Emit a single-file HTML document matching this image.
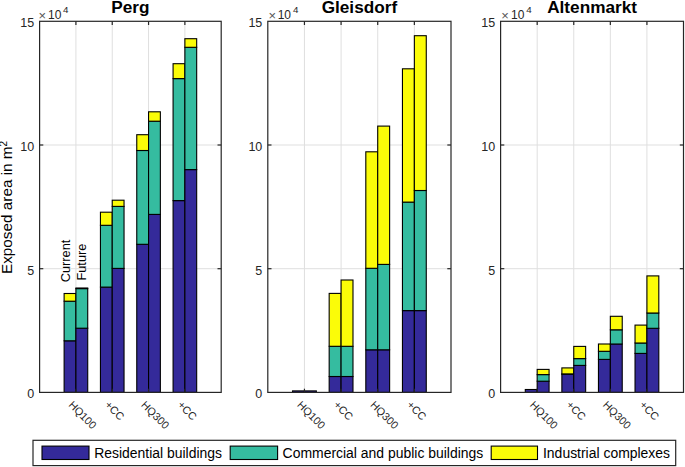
<!DOCTYPE html>
<html><head><meta charset="utf-8"><style>html,body{margin:0;padding:0;background:#fff;width:685px;height:467px;overflow:hidden}</style></head>
<body>
<svg width="685" height="467" viewBox="0 0 685 467" style="display:block">
<rect width="685" height="467" fill="#fff"/>
<line x1="75.92" y1="21.3" x2="75.92" y2="392.4" stroke="#dfdfdf" stroke-width="1"/>
<line x1="112.24" y1="21.3" x2="112.24" y2="392.4" stroke="#dfdfdf" stroke-width="1"/>
<line x1="148.56" y1="21.3" x2="148.56" y2="392.4" stroke="#dfdfdf" stroke-width="1"/>
<line x1="184.88" y1="21.3" x2="184.88" y2="392.4" stroke="#dfdfdf" stroke-width="1"/>
<line x1="39.6" y1="268.70" x2="221.2" y2="268.70" stroke="#dfdfdf" stroke-width="1"/>
<line x1="39.6" y1="145.00" x2="221.2" y2="145.00" stroke="#dfdfdf" stroke-width="1"/>
<rect x="64.12" y="340.80" width="11.80" height="51.60" fill="#342a9a" stroke="#000" stroke-width="1.1"/>
<rect x="64.12" y="301.20" width="11.80" height="39.60" fill="#35bca0" stroke="#000" stroke-width="1.1"/>
<rect x="64.12" y="293.50" width="11.80" height="7.70" fill="#fbfc08" stroke="#000" stroke-width="1.1"/>
<rect x="75.92" y="328.20" width="11.80" height="64.20" fill="#342a9a" stroke="#000" stroke-width="1.1"/>
<rect x="75.92" y="288.60" width="11.80" height="39.60" fill="#35bca0" stroke="#000" stroke-width="1.1"/>
<rect x="75.92" y="288.00" width="11.80" height="0.60" fill="#fbfc08" stroke="#000" stroke-width="1.1"/>
<rect x="100.44" y="287.10" width="11.80" height="105.30" fill="#342a9a" stroke="#000" stroke-width="1.1"/>
<rect x="100.44" y="225.30" width="11.80" height="61.80" fill="#35bca0" stroke="#000" stroke-width="1.1"/>
<rect x="100.44" y="212.20" width="11.80" height="13.10" fill="#fbfc08" stroke="#000" stroke-width="1.1"/>
<rect x="112.24" y="268.40" width="11.80" height="124.00" fill="#342a9a" stroke="#000" stroke-width="1.1"/>
<rect x="112.24" y="206.40" width="11.80" height="62.00" fill="#35bca0" stroke="#000" stroke-width="1.1"/>
<rect x="112.24" y="200.20" width="11.80" height="6.20" fill="#fbfc08" stroke="#000" stroke-width="1.1"/>
<rect x="136.76" y="244.30" width="11.80" height="148.10" fill="#342a9a" stroke="#000" stroke-width="1.1"/>
<rect x="136.76" y="150.50" width="11.80" height="93.80" fill="#35bca0" stroke="#000" stroke-width="1.1"/>
<rect x="136.76" y="134.70" width="11.80" height="15.80" fill="#fbfc08" stroke="#000" stroke-width="1.1"/>
<rect x="148.56" y="214.40" width="11.80" height="178.00" fill="#342a9a" stroke="#000" stroke-width="1.1"/>
<rect x="148.56" y="121.20" width="11.80" height="93.20" fill="#35bca0" stroke="#000" stroke-width="1.1"/>
<rect x="148.56" y="111.80" width="11.80" height="9.40" fill="#fbfc08" stroke="#000" stroke-width="1.1"/>
<rect x="173.08" y="200.60" width="11.80" height="191.80" fill="#342a9a" stroke="#000" stroke-width="1.1"/>
<rect x="173.08" y="78.60" width="11.80" height="122.00" fill="#35bca0" stroke="#000" stroke-width="1.1"/>
<rect x="173.08" y="63.70" width="11.80" height="14.90" fill="#fbfc08" stroke="#000" stroke-width="1.1"/>
<rect x="184.88" y="169.60" width="11.80" height="222.80" fill="#342a9a" stroke="#000" stroke-width="1.1"/>
<rect x="184.88" y="47.30" width="11.80" height="122.30" fill="#35bca0" stroke="#000" stroke-width="1.1"/>
<rect x="184.88" y="38.70" width="11.80" height="8.60" fill="#fbfc08" stroke="#000" stroke-width="1.1"/>
<rect x="39.6" y="21.3" width="181.60" height="371.10" fill="none" stroke="#262626" stroke-width="1.2"/>
<line x1="75.92" y1="392.4" x2="75.92" y2="388.7" stroke="#262626" stroke-width="1.2"/>
<line x1="75.92" y1="21.3" x2="75.92" y2="25.0" stroke="#262626" stroke-width="1.2"/>
<line x1="112.24" y1="392.4" x2="112.24" y2="388.7" stroke="#262626" stroke-width="1.2"/>
<line x1="112.24" y1="21.3" x2="112.24" y2="25.0" stroke="#262626" stroke-width="1.2"/>
<line x1="148.56" y1="392.4" x2="148.56" y2="388.7" stroke="#262626" stroke-width="1.2"/>
<line x1="148.56" y1="21.3" x2="148.56" y2="25.0" stroke="#262626" stroke-width="1.2"/>
<line x1="184.88" y1="392.4" x2="184.88" y2="388.7" stroke="#262626" stroke-width="1.2"/>
<line x1="184.88" y1="21.3" x2="184.88" y2="25.0" stroke="#262626" stroke-width="1.2"/>
<line x1="39.6" y1="268.70" x2="43.300000000000004" y2="268.70" stroke="#262626" stroke-width="1.2"/>
<line x1="221.2" y1="268.70" x2="217.5" y2="268.70" stroke="#262626" stroke-width="1.2"/>
<line x1="39.6" y1="145.00" x2="43.300000000000004" y2="145.00" stroke="#262626" stroke-width="1.2"/>
<line x1="221.2" y1="145.00" x2="217.5" y2="145.00" stroke="#262626" stroke-width="1.2"/>
<text x="34.10" y="398.30" text-anchor="end" font-family='"Liberation Sans", sans-serif' font-size="12.5" fill="#262626">0</text>
<text x="34.10" y="274.60" text-anchor="end" font-family='"Liberation Sans", sans-serif' font-size="12.5" fill="#262626">5</text>
<text x="34.10" y="150.90" text-anchor="end" font-family='"Liberation Sans", sans-serif' font-size="12.5" fill="#262626">10</text>
<text x="34.10" y="27.20" text-anchor="end" font-family='"Liberation Sans", sans-serif' font-size="12.5" fill="#262626">15</text>
<text x="38.49" y="19.7" font-family='"Liberation Sans", sans-serif' font-size="13" fill="#555">&#215;</text>
<text x="47.99" y="18.6" font-family='"Liberation Sans", sans-serif' font-size="12" fill="#262626">10</text>
<text x="62.97" y="12.7" font-family='"Liberation Sans", sans-serif' font-size="9.8" fill="#262626">4</text>
<text x="130.40" y="13.2" text-anchor="middle" font-family='"Liberation Sans", sans-serif' font-weight="bold" font-size="17.2" fill="#000">Perg</text>
<text transform="translate(67.92,405.60) rotate(45)" font-family='"Liberation Sans", sans-serif' font-size="10.8" fill="#262626">HQ100</text>
<text transform="translate(104.24,405.60) rotate(45)" font-family='"Liberation Sans", sans-serif' font-size="10.8" fill="#262626">+CC</text>
<text transform="translate(140.56,405.60) rotate(45)" font-family='"Liberation Sans", sans-serif' font-size="10.8" fill="#262626">HQ300</text>
<text transform="translate(176.88,405.60) rotate(45)" font-family='"Liberation Sans", sans-serif' font-size="10.8" fill="#262626">+CC</text>
<line x1="304.44" y1="21.3" x2="304.44" y2="392.4" stroke="#dfdfdf" stroke-width="1"/>
<line x1="341.08" y1="21.3" x2="341.08" y2="392.4" stroke="#dfdfdf" stroke-width="1"/>
<line x1="377.72" y1="21.3" x2="377.72" y2="392.4" stroke="#dfdfdf" stroke-width="1"/>
<line x1="414.36" y1="21.3" x2="414.36" y2="392.4" stroke="#dfdfdf" stroke-width="1"/>
<line x1="267.8" y1="268.70" x2="451.0" y2="268.70" stroke="#dfdfdf" stroke-width="1"/>
<line x1="267.8" y1="145.00" x2="451.0" y2="145.00" stroke="#dfdfdf" stroke-width="1"/>
<rect x="292.53" y="390.90" width="11.91" height="1.50" fill="#342a9a" stroke="#000" stroke-width="1.1"/>
<rect x="304.44" y="390.90" width="11.91" height="1.50" fill="#342a9a" stroke="#000" stroke-width="1.1"/>
<rect x="329.17" y="376.50" width="11.91" height="15.90" fill="#342a9a" stroke="#000" stroke-width="1.1"/>
<rect x="329.17" y="346.30" width="11.91" height="30.20" fill="#35bca0" stroke="#000" stroke-width="1.1"/>
<rect x="329.17" y="293.40" width="11.91" height="52.90" fill="#fbfc08" stroke="#000" stroke-width="1.1"/>
<rect x="341.08" y="376.50" width="11.91" height="15.90" fill="#342a9a" stroke="#000" stroke-width="1.1"/>
<rect x="341.08" y="346.30" width="11.91" height="30.20" fill="#35bca0" stroke="#000" stroke-width="1.1"/>
<rect x="341.08" y="280.00" width="11.91" height="66.30" fill="#fbfc08" stroke="#000" stroke-width="1.1"/>
<rect x="365.81" y="349.80" width="11.91" height="42.60" fill="#342a9a" stroke="#000" stroke-width="1.1"/>
<rect x="365.81" y="268.30" width="11.91" height="81.50" fill="#35bca0" stroke="#000" stroke-width="1.1"/>
<rect x="365.81" y="151.80" width="11.91" height="116.50" fill="#fbfc08" stroke="#000" stroke-width="1.1"/>
<rect x="377.72" y="349.80" width="11.91" height="42.60" fill="#342a9a" stroke="#000" stroke-width="1.1"/>
<rect x="377.72" y="264.40" width="11.91" height="85.40" fill="#35bca0" stroke="#000" stroke-width="1.1"/>
<rect x="377.72" y="126.10" width="11.91" height="138.30" fill="#fbfc08" stroke="#000" stroke-width="1.1"/>
<rect x="402.45" y="310.60" width="11.91" height="81.80" fill="#342a9a" stroke="#000" stroke-width="1.1"/>
<rect x="402.45" y="202.10" width="11.91" height="108.50" fill="#35bca0" stroke="#000" stroke-width="1.1"/>
<rect x="402.45" y="68.80" width="11.91" height="133.30" fill="#fbfc08" stroke="#000" stroke-width="1.1"/>
<rect x="414.36" y="310.60" width="11.91" height="81.80" fill="#342a9a" stroke="#000" stroke-width="1.1"/>
<rect x="414.36" y="190.50" width="11.91" height="120.10" fill="#35bca0" stroke="#000" stroke-width="1.1"/>
<rect x="414.36" y="35.70" width="11.91" height="154.80" fill="#fbfc08" stroke="#000" stroke-width="1.1"/>
<rect x="267.8" y="21.3" width="183.20" height="371.10" fill="none" stroke="#262626" stroke-width="1.2"/>
<line x1="304.44" y1="392.4" x2="304.44" y2="388.7" stroke="#262626" stroke-width="1.2"/>
<line x1="304.44" y1="21.3" x2="304.44" y2="25.0" stroke="#262626" stroke-width="1.2"/>
<line x1="341.08" y1="392.4" x2="341.08" y2="388.7" stroke="#262626" stroke-width="1.2"/>
<line x1="341.08" y1="21.3" x2="341.08" y2="25.0" stroke="#262626" stroke-width="1.2"/>
<line x1="377.72" y1="392.4" x2="377.72" y2="388.7" stroke="#262626" stroke-width="1.2"/>
<line x1="377.72" y1="21.3" x2="377.72" y2="25.0" stroke="#262626" stroke-width="1.2"/>
<line x1="414.36" y1="392.4" x2="414.36" y2="388.7" stroke="#262626" stroke-width="1.2"/>
<line x1="414.36" y1="21.3" x2="414.36" y2="25.0" stroke="#262626" stroke-width="1.2"/>
<line x1="267.8" y1="268.70" x2="271.5" y2="268.70" stroke="#262626" stroke-width="1.2"/>
<line x1="451.0" y1="268.70" x2="447.3" y2="268.70" stroke="#262626" stroke-width="1.2"/>
<line x1="267.8" y1="145.00" x2="271.5" y2="145.00" stroke="#262626" stroke-width="1.2"/>
<line x1="451.0" y1="145.00" x2="447.3" y2="145.00" stroke="#262626" stroke-width="1.2"/>
<text x="262.30" y="398.30" text-anchor="end" font-family='"Liberation Sans", sans-serif' font-size="12.5" fill="#262626">0</text>
<text x="262.30" y="274.60" text-anchor="end" font-family='"Liberation Sans", sans-serif' font-size="12.5" fill="#262626">5</text>
<text x="262.30" y="150.90" text-anchor="end" font-family='"Liberation Sans", sans-serif' font-size="12.5" fill="#262626">10</text>
<text x="262.30" y="27.20" text-anchor="end" font-family='"Liberation Sans", sans-serif' font-size="12.5" fill="#262626">15</text>
<text x="268.49" y="19.7" font-family='"Liberation Sans", sans-serif' font-size="13" fill="#555">&#215;</text>
<text x="277.69" y="18.6" font-family='"Liberation Sans", sans-serif' font-size="12" fill="#262626">10</text>
<text x="292.97" y="12.7" font-family='"Liberation Sans", sans-serif' font-size="9.8" fill="#262626">4</text>
<text x="359.40" y="13.2" text-anchor="middle" font-family='"Liberation Sans", sans-serif' font-weight="bold" font-size="17.2" fill="#000">Gleisdorf</text>
<text transform="translate(296.44,405.60) rotate(45)" font-family='"Liberation Sans", sans-serif' font-size="10.8" fill="#262626">HQ100</text>
<text transform="translate(333.08,405.60) rotate(45)" font-family='"Liberation Sans", sans-serif' font-size="10.8" fill="#262626">+CC</text>
<text transform="translate(369.72,405.60) rotate(45)" font-family='"Liberation Sans", sans-serif' font-size="10.8" fill="#262626">HQ300</text>
<text transform="translate(406.36,405.60) rotate(45)" font-family='"Liberation Sans", sans-serif' font-size="10.8" fill="#262626">+CC</text>
<line x1="537.18" y1="21.3" x2="537.18" y2="392.4" stroke="#dfdfdf" stroke-width="1"/>
<line x1="573.76" y1="21.3" x2="573.76" y2="392.4" stroke="#dfdfdf" stroke-width="1"/>
<line x1="610.34" y1="21.3" x2="610.34" y2="392.4" stroke="#dfdfdf" stroke-width="1"/>
<line x1="646.92" y1="21.3" x2="646.92" y2="392.4" stroke="#dfdfdf" stroke-width="1"/>
<line x1="500.6" y1="268.70" x2="683.5" y2="268.70" stroke="#dfdfdf" stroke-width="1"/>
<line x1="500.6" y1="145.00" x2="683.5" y2="145.00" stroke="#dfdfdf" stroke-width="1"/>
<rect x="525.29" y="389.50" width="11.89" height="2.90" fill="#342a9a" stroke="#000" stroke-width="1.1"/>
<rect x="537.18" y="381.20" width="11.89" height="11.20" fill="#342a9a" stroke="#000" stroke-width="1.1"/>
<rect x="537.18" y="374.60" width="11.89" height="6.60" fill="#35bca0" stroke="#000" stroke-width="1.1"/>
<rect x="537.18" y="369.40" width="11.89" height="5.20" fill="#fbfc08" stroke="#000" stroke-width="1.1"/>
<rect x="561.87" y="374.20" width="11.89" height="18.20" fill="#342a9a" stroke="#000" stroke-width="1.1"/>
<rect x="561.87" y="373.90" width="11.89" height="0.30" fill="#35bca0" stroke="#000" stroke-width="1.1"/>
<rect x="561.87" y="367.90" width="11.89" height="6.00" fill="#fbfc08" stroke="#000" stroke-width="1.1"/>
<rect x="573.76" y="365.40" width="11.89" height="27.00" fill="#342a9a" stroke="#000" stroke-width="1.1"/>
<rect x="573.76" y="358.60" width="11.89" height="6.80" fill="#35bca0" stroke="#000" stroke-width="1.1"/>
<rect x="573.76" y="346.40" width="11.89" height="12.20" fill="#fbfc08" stroke="#000" stroke-width="1.1"/>
<rect x="598.45" y="359.40" width="11.89" height="33.00" fill="#342a9a" stroke="#000" stroke-width="1.1"/>
<rect x="598.45" y="351.30" width="11.89" height="8.10" fill="#35bca0" stroke="#000" stroke-width="1.1"/>
<rect x="598.45" y="344.00" width="11.89" height="7.30" fill="#fbfc08" stroke="#000" stroke-width="1.1"/>
<rect x="610.34" y="344.00" width="11.89" height="48.40" fill="#342a9a" stroke="#000" stroke-width="1.1"/>
<rect x="610.34" y="329.80" width="11.89" height="14.20" fill="#35bca0" stroke="#000" stroke-width="1.1"/>
<rect x="610.34" y="316.30" width="11.89" height="13.50" fill="#fbfc08" stroke="#000" stroke-width="1.1"/>
<rect x="635.03" y="353.40" width="11.89" height="39.00" fill="#342a9a" stroke="#000" stroke-width="1.1"/>
<rect x="635.03" y="343.00" width="11.89" height="10.40" fill="#35bca0" stroke="#000" stroke-width="1.1"/>
<rect x="635.03" y="325.10" width="11.89" height="17.90" fill="#fbfc08" stroke="#000" stroke-width="1.1"/>
<rect x="646.92" y="328.30" width="11.89" height="64.10" fill="#342a9a" stroke="#000" stroke-width="1.1"/>
<rect x="646.92" y="313.00" width="11.89" height="15.30" fill="#35bca0" stroke="#000" stroke-width="1.1"/>
<rect x="646.92" y="275.90" width="11.89" height="37.10" fill="#fbfc08" stroke="#000" stroke-width="1.1"/>
<rect x="500.6" y="21.3" width="182.90" height="371.10" fill="none" stroke="#262626" stroke-width="1.2"/>
<line x1="537.18" y1="392.4" x2="537.18" y2="388.7" stroke="#262626" stroke-width="1.2"/>
<line x1="537.18" y1="21.3" x2="537.18" y2="25.0" stroke="#262626" stroke-width="1.2"/>
<line x1="573.76" y1="392.4" x2="573.76" y2="388.7" stroke="#262626" stroke-width="1.2"/>
<line x1="573.76" y1="21.3" x2="573.76" y2="25.0" stroke="#262626" stroke-width="1.2"/>
<line x1="610.34" y1="392.4" x2="610.34" y2="388.7" stroke="#262626" stroke-width="1.2"/>
<line x1="610.34" y1="21.3" x2="610.34" y2="25.0" stroke="#262626" stroke-width="1.2"/>
<line x1="646.92" y1="392.4" x2="646.92" y2="388.7" stroke="#262626" stroke-width="1.2"/>
<line x1="646.92" y1="21.3" x2="646.92" y2="25.0" stroke="#262626" stroke-width="1.2"/>
<line x1="500.6" y1="268.70" x2="504.3" y2="268.70" stroke="#262626" stroke-width="1.2"/>
<line x1="683.5" y1="268.70" x2="679.8" y2="268.70" stroke="#262626" stroke-width="1.2"/>
<line x1="500.6" y1="145.00" x2="504.3" y2="145.00" stroke="#262626" stroke-width="1.2"/>
<line x1="683.5" y1="145.00" x2="679.8" y2="145.00" stroke="#262626" stroke-width="1.2"/>
<text x="495.10" y="398.30" text-anchor="end" font-family='"Liberation Sans", sans-serif' font-size="12.5" fill="#262626">0</text>
<text x="495.10" y="274.60" text-anchor="end" font-family='"Liberation Sans", sans-serif' font-size="12.5" fill="#262626">5</text>
<text x="495.10" y="150.90" text-anchor="end" font-family='"Liberation Sans", sans-serif' font-size="12.5" fill="#262626">10</text>
<text x="495.10" y="27.20" text-anchor="end" font-family='"Liberation Sans", sans-serif' font-size="12.5" fill="#262626">15</text>
<text x="501.19" y="19.7" font-family='"Liberation Sans", sans-serif' font-size="13" fill="#555">&#215;</text>
<text x="510.99" y="18.6" font-family='"Liberation Sans", sans-serif' font-size="12" fill="#262626">10</text>
<text x="526.17" y="12.7" font-family='"Liberation Sans", sans-serif' font-size="9.8" fill="#262626">4</text>
<text x="592.05" y="13.2" text-anchor="middle" font-family='"Liberation Sans", sans-serif' font-weight="bold" font-size="17.2" fill="#000">Altenmarkt</text>
<text transform="translate(529.18,405.60) rotate(45)" font-family='"Liberation Sans", sans-serif' font-size="10.8" fill="#262626">HQ100</text>
<text transform="translate(565.76,405.60) rotate(45)" font-family='"Liberation Sans", sans-serif' font-size="10.8" fill="#262626">+CC</text>
<text transform="translate(602.34,405.60) rotate(45)" font-family='"Liberation Sans", sans-serif' font-size="10.8" fill="#262626">HQ300</text>
<text transform="translate(638.92,405.60) rotate(45)" font-family='"Liberation Sans", sans-serif' font-size="10.8" fill="#262626">+CC</text>
<text transform="translate(11.9,274.0) rotate(-90)" font-family='"Liberation Sans", sans-serif' font-size="15.3" fill="#000">Exposed area in m<tspan font-size="10" dy="-5.2">2</tspan></text>
<text transform="translate(69.8,282.3) rotate(-90)" font-family='"Liberation Sans", sans-serif' font-size="12.8" fill="#000">Current</text>
<text transform="translate(85.8,280.6) rotate(-90)" font-family='"Liberation Sans", sans-serif' font-size="12.8" fill="#000">Future</text>
<rect x="33.0" y="440.3" width="642.70" height="25.30" fill="#fff" stroke="#262626" stroke-width="1.2"/>
<rect x="42.0" y="446.1" width="47.00" height="13.4" fill="#342a9a" stroke="#000" stroke-width="1.1"/>
<text x="94.2" y="458.3" font-family='"Liberation Sans", sans-serif' font-size="13.95" fill="#000">Residential buildings</text>
<rect x="230.2" y="446.1" width="47.40" height="13.4" fill="#35bca0" stroke="#000" stroke-width="1.1"/>
<text x="282.6" y="458.3" font-family='"Liberation Sans", sans-serif' font-size="13.95" fill="#000">Commercial and public buildings</text>
<rect x="491.2" y="446.1" width="46.30" height="13.4" fill="#fbfc08" stroke="#000" stroke-width="1.1"/>
<text x="543.0" y="458.3" font-family='"Liberation Sans", sans-serif' font-size="13.95" fill="#000">Industrial complexes</text>
</svg>
</body></html>
